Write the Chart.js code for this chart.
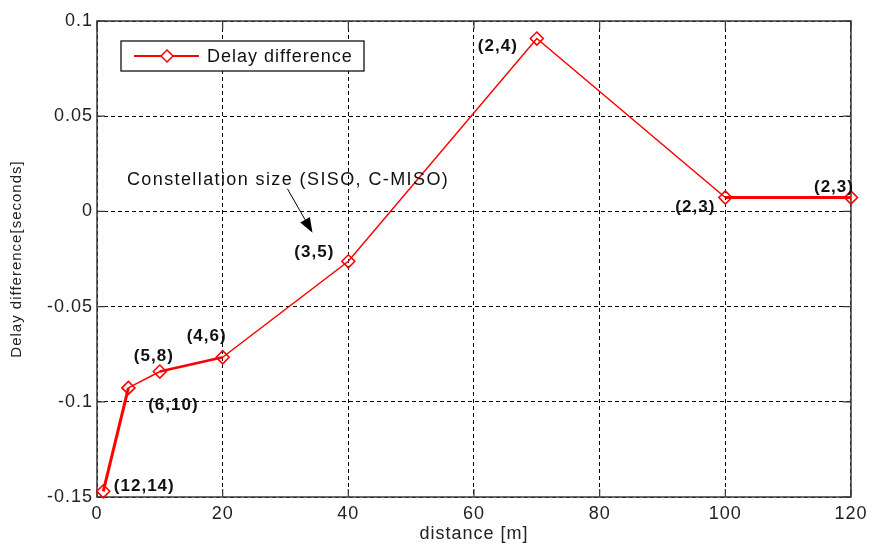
<!DOCTYPE html>
<html>
<head>
<meta charset="utf-8">
<script src="https://cdn.jsdelivr.net/npm/chart.js@4"></script>
<style>
  html, body { margin: 0; padding: 0; background: #fff; }
</style>
</head>
<body>
<canvas id="myChart" width="872" height="545"></canvas>
<script>
// distance [m] -> delay difference [s]
const distances = [1, 5, 10, 20, 40, 70, 100, 120];
const delayDiff = [-0.147, -0.0927, -0.0841, -0.0766, -0.0262, 0.0908, 0.0073, 0.0073];
// constellation size (SISO, C-MISO) for each point
const sizeLabels = ['(12,14)', '(6,10)', '(5,8)', '(4,6)', '(3,5)', '(2,4)', '(2,3)', '(2,3)'];
const xTicks = [0, 20, 40, 60, 80, 100, 120];
const yTicks = [-0.15, -0.1, -0.05, 0, 0.05, 0.1];
const seriesName = 'Delay difference';
const noteText = 'Constellation size (SISO, C-MISO)';

const RED = '#ff0000';
const FONT = 'Liberation Sans, Arial, sans-serif';

// label offsets from its point, in px (dx, dy)
const labelShift = [[41, -5], [45, 17], [-6, -15], [-16, -21], [-34, -9], [-39, 8], [-30, 10], [-17, -10]];
// segment widths (some parts of the original line are heavier)
const segWidth = [3, 1.5, 2.5, 1.5, 1.5, 1.5, 3];

function diamond(ctx, x, y, r){
    ctx.beginPath();
    ctx.moveTo(x, y - r);
    ctx.lineTo(x + r, y);
    ctx.lineTo(x, y + r);
    ctx.lineTo(x - r, y);
    ctx.closePath();
    ctx.stroke();
}

const decor = {
    id: 'decor',
    beforeDraw(chart){
        chart.ctx.letterSpacing = '1px';
    },
    beforeDatasetsDraw(chart){ // frame + inward ticks like matlab
        const {ctx, chartArea: a, scales} = chart;
        ctx.save();
        ctx.strokeStyle = '#3a3a3a';
        ctx.lineWidth = 1.5;
        ctx.strokeRect(a.left, a.top, a.right - a.left, a.bottom - a.top);
        ctx.lineWidth = 1.2;
        ctx.beginPath();
        xTicks.forEach(v => {
            const px = scales.x.getPixelForValue(v);
            ctx.moveTo(px, a.bottom); ctx.lineTo(px, a.bottom - 8);
            ctx.moveTo(px, a.top); ctx.lineTo(px, a.top + 8);
        });
        yTicks.forEach(v => {
            const py = scales.y.getPixelForValue(v);
            ctx.moveTo(a.left, py); ctx.lineTo(a.left + 8, py);
            ctx.moveTo(a.right, py); ctx.lineTo(a.right - 8, py);
        });
        ctx.stroke();
        ctx.restore();
    },
    afterDatasetsDraw(chart){
        const {ctx, chartArea: a, scales} = chart;
        const meta = chart.getDatasetMeta(0);
        ctx.save();
        ctx.letterSpacing = '1px';

        // constellation size labels
        ctx.font = 'bold 17px ' + FONT;
        ctx.fillStyle = '#111';
        ctx.textAlign = 'center';
        ctx.textBaseline = 'middle';
        meta.data.forEach((pt, i) => {
            ctx.fillText(sizeLabels[i], pt.x + labelShift[i][0], pt.y + labelShift[i][1]);
        });

        // note text + arrow
        ctx.font = '18px ' + FONT;
        ctx.letterSpacing = '1.4px';
        ctx.textAlign = 'left';
        ctx.textBaseline = 'alphabetic';
        ctx.fillText(noteText, scales.x.getPixelForValue(4.76), scales.y.getPixelForValue(0.014));
        ctx.letterSpacing = '1px';

        const x0 = scales.x.getPixelForValue(30.3), y0 = scales.y.getPixelForValue(0.0119);
        const x1 = scales.x.getPixelForValue(34.3), y1 = scales.y.getPixelForValue(-0.0112);
        const ang = Math.atan2(y1 - y0, x1 - x0);
        const hl = 15, hw = 5.5;
        const bx = x1 - hl * Math.cos(ang), by = y1 - hl * Math.sin(ang);
        ctx.strokeStyle = '#000';
        ctx.lineWidth = 1;
        ctx.beginPath();
        ctx.moveTo(x0, y0); ctx.lineTo(bx, by);
        ctx.stroke();
        ctx.fillStyle = '#000';
        ctx.beginPath();
        ctx.moveTo(x1, y1);
        ctx.lineTo(bx + hw * Math.sin(ang), by - hw * Math.cos(ang));
        ctx.lineTo(bx - hw * Math.sin(ang), by + hw * Math.cos(ang));
        ctx.closePath();
        ctx.fill();

        // legend box
        const lx = a.left + 24, ly = a.top + 20, lw = 243, lh = 30;
        ctx.fillStyle = '#fff';
        ctx.fillRect(lx, ly, lw, lh);
        ctx.strokeStyle = '#111';
        ctx.lineWidth = 1.3;
        ctx.strokeRect(lx, ly, lw, lh);
        ctx.strokeStyle = RED;
        ctx.lineWidth = 1.8;
        ctx.beginPath();
        ctx.moveTo(lx + 13, ly + lh / 2); ctx.lineTo(lx + 78, ly + lh / 2);
        ctx.stroke();
        ctx.fillStyle = '#fff';
        ctx.beginPath();
        ctx.moveTo(lx + 46, ly + lh / 2 - 6); ctx.lineTo(lx + 52, ly + lh / 2);
        ctx.lineTo(lx + 46, ly + lh / 2 + 6); ctx.lineTo(lx + 40, ly + lh / 2);
        ctx.closePath(); ctx.fill();
        ctx.lineWidth = 1.5;
        diamond(ctx, lx + 46, ly + lh / 2, 6);
        ctx.fillStyle = '#111';
        ctx.font = '18px ' + FONT;
        ctx.textBaseline = 'middle';
        ctx.fillText(chart.data.datasets[0].label, lx + 86, ly + lh / 2 + 1);
        ctx.restore();
    }
};

drawChart();

function drawChart(){
    const ctx = document.querySelector('#myChart');
    const points = distances.map((d, i) => ({x: d, y: delayDiff[i]}));

    new Chart(ctx, {
        type: 'line',
        data: {
            datasets: [{
                label: seriesName,
                data: points,
                borderColor: RED,
                borderWidth: 1.5,
                pointStyle: 'rectRot',
                pointRadius: 6.5,
                pointBorderWidth: 1.6,
                pointBorderColor: RED,
                pointBackgroundColor: 'rgba(255,255,255,0)',
                tension: 0,
                clip: false,
                segment: {
                    borderWidth: c => segWidth[c.p0DataIndex] || 1.5
                }
            }]
        },
        options: {
            responsive: false,
            animation: false,
            devicePixelRatio: 1,
            layout: { padding: { top: 21, right: 18, left: 0, bottom: 0 } },
            plugins: {
                legend: { display: false },
                tooltip: { enabled: false }
            },
            scales: {
                x: {
                    type: 'linear',
                    min: 0, max: 120,
                    afterBuildTicks: s => { s.ticks = xTicks.map(v => ({value: v})); },
                    afterFit: s => { s.height = 48; },
                    grid: { color: '#000', lineWidth: 1, drawTicks: false },
                    border: { display: false, dash: [4, 3] },
                    ticks: {
                        padding: 6,
                        color: '#222',
                        font: { family: FONT, size: 18 },
                        maxRotation: 0
                    },
                    title: {
                        display: true,
                        text: 'distance [m]',
                        color: '#222',
                        font: { family: FONT, size: 18 },
                        padding: { top: 0, bottom: 0 }
                    }
                },
                y: {
                    type: 'linear',
                    min: -0.15, max: 0.1,
                    afterBuildTicks: s => { s.ticks = yTicks.map(v => ({value: v})); },
                    afterFit: s => { s.width = 97; },
                    grid: { color: '#000', lineWidth: 1, drawTicks: false },
                    border: { display: false, dash: [4, 3] },
                    ticks: {
                        padding: 4,
                        color: '#222',
                        font: { family: FONT, size: 18 },
                        callback: v => String(+v.toFixed(2))
                    },
                    title: {
                        display: true,
                        text: 'Delay difference[seconds]',
                        color: '#222',
                        font: { family: FONT, size: 15 },
                        padding: { top: 8, bottom: 0 }
                    }
                }
            }
        },
        plugins: [decor]
    });
}
</script>
</body>
</html>
